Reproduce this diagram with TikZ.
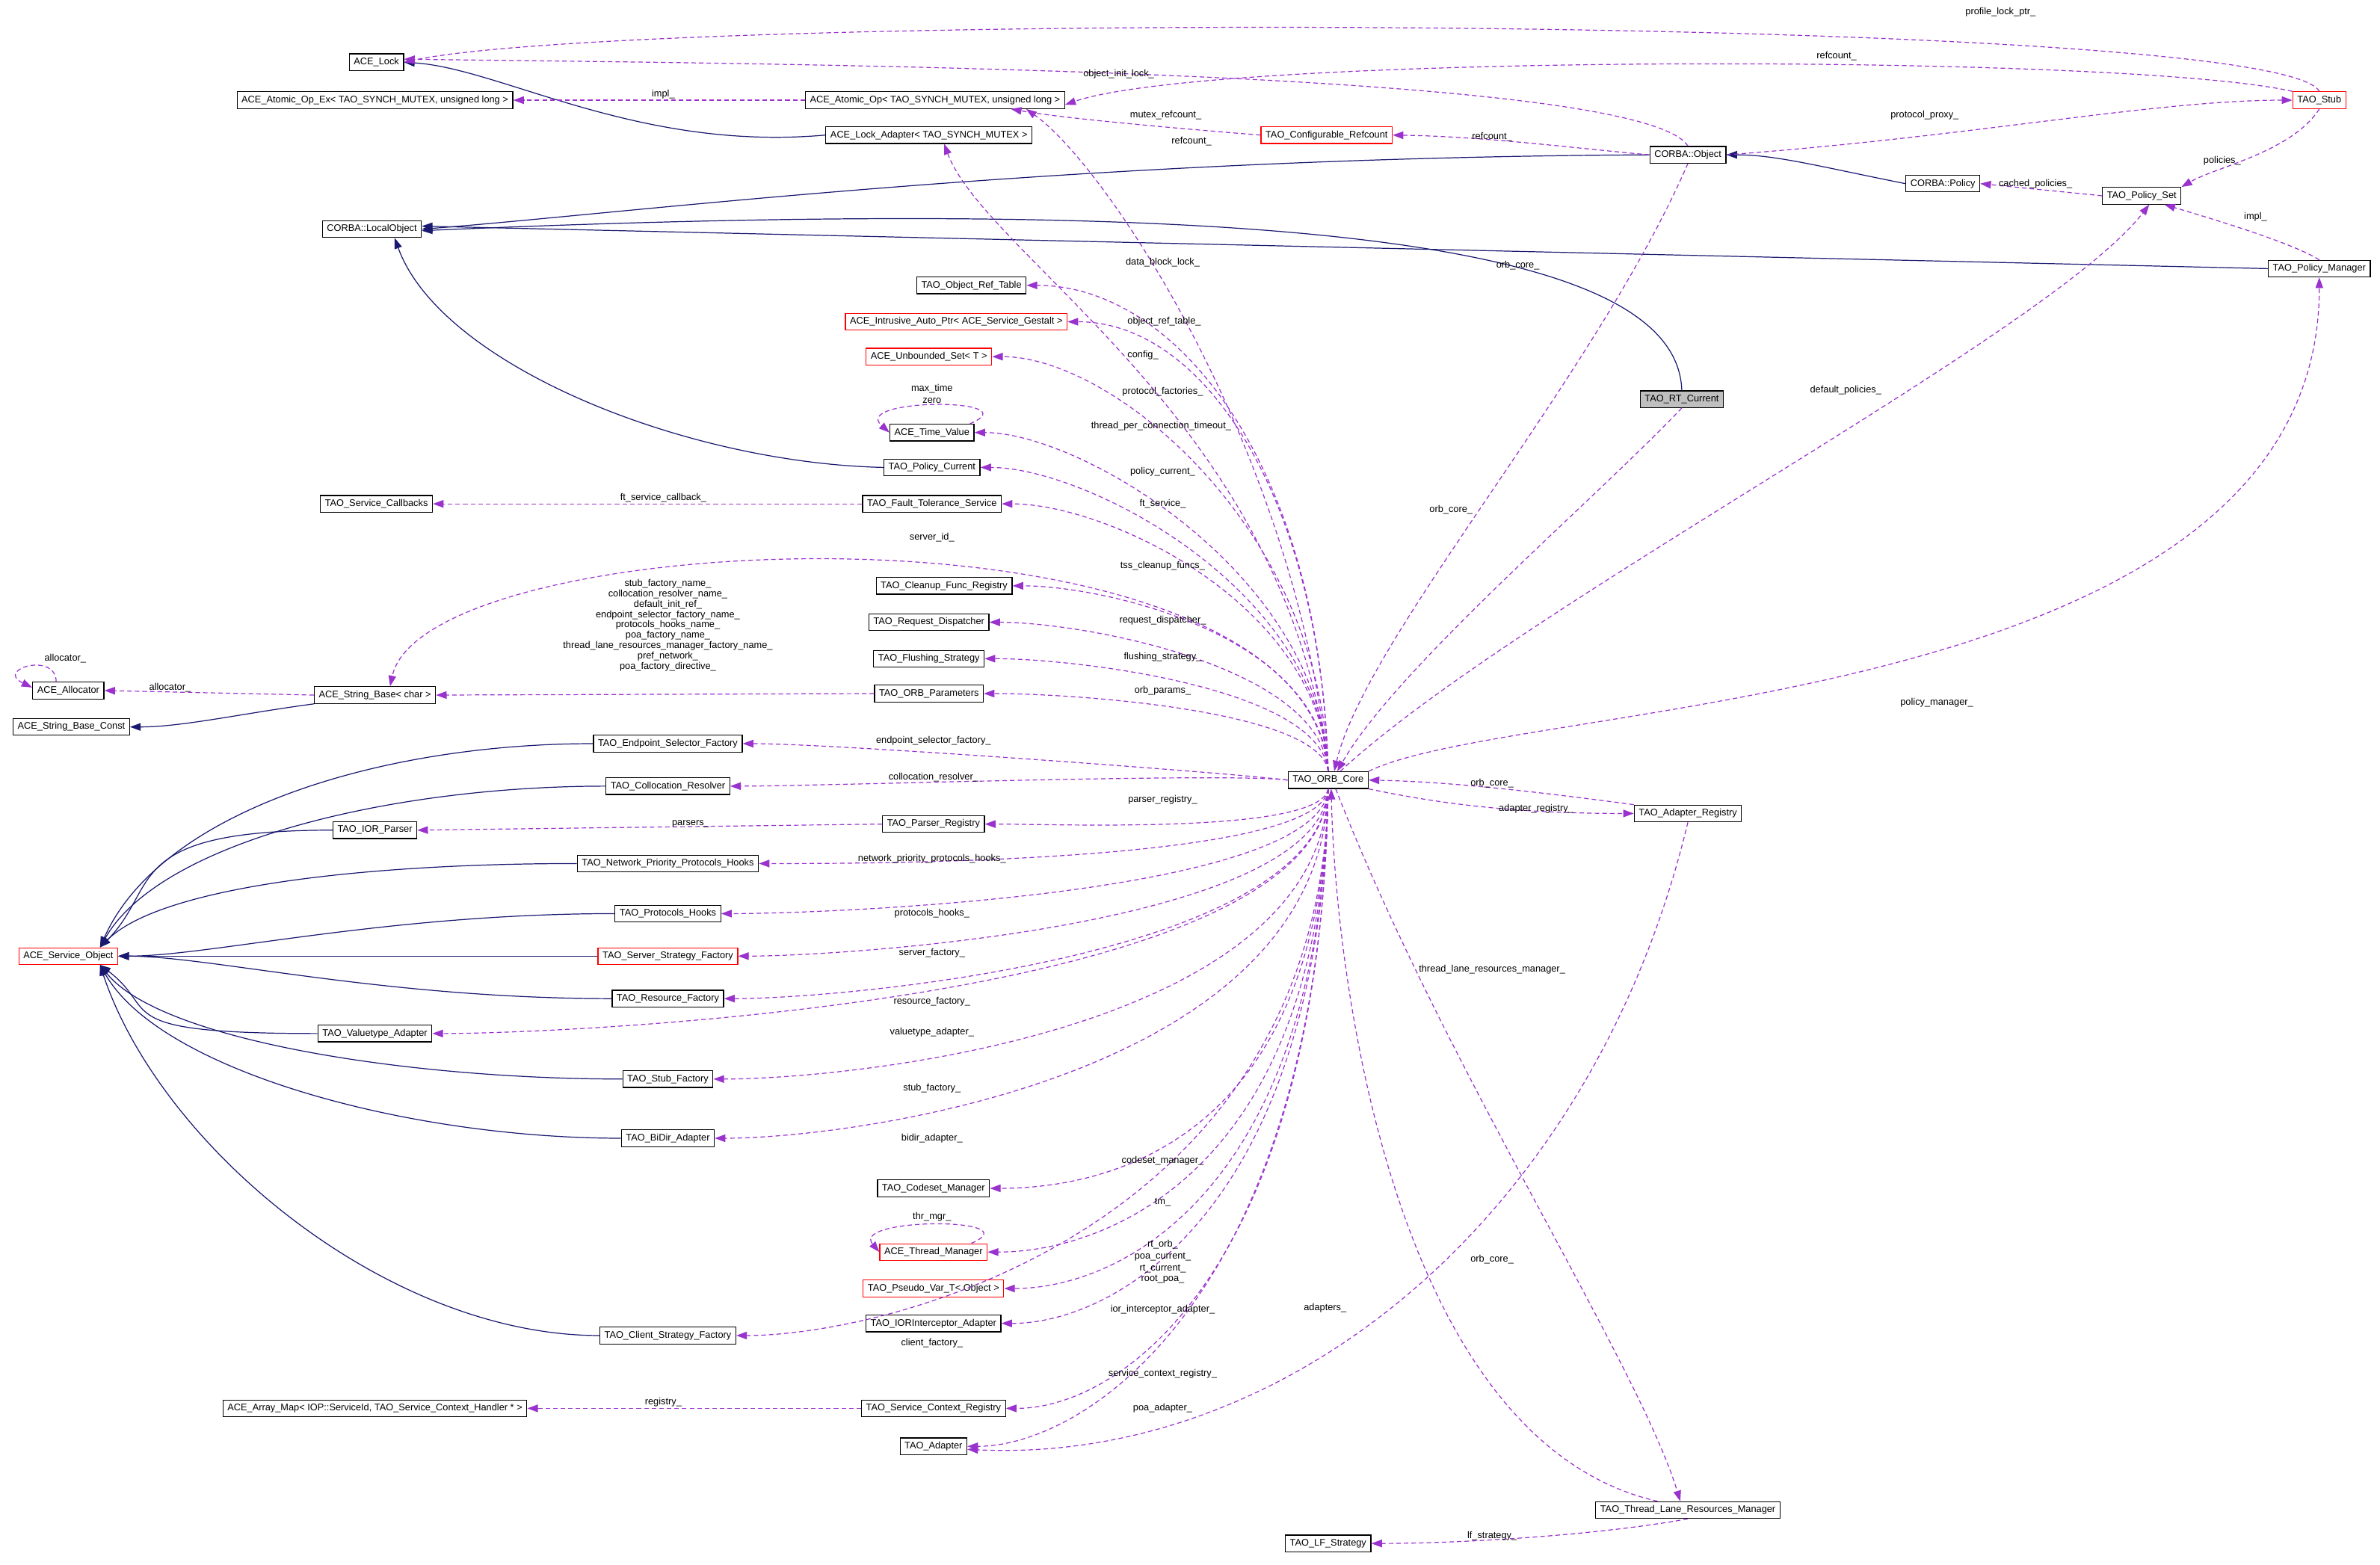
\documentclass[tikz,border=0pt]{standalone}
\usepackage{fontspec}
\setmainfont{Liberation Sans}
\usetikzlibrary{arrows.meta}
\definecolor{inhcol}{HTML}{191970}
\definecolor{usecol}{HTML}{9A32CD}
\tikzset{
  cls/.style={draw=black, line width=0.6pt, fill=white, inner xsep=3pt, inner ysep=1pt, minimum height=11pt, font=\fontsize{6.3}{7}\selectfont},
  tcls/.style={cls, draw=red},
  inh/.style={draw=inhcol, line width=0.6pt, -{Triangle[length=7pt,width=5pt]}},
  usel/.style={draw=usecol, line width=0.6pt, dash pattern=on 3pt off 2pt, -{Triangle[length=7pt,width=5pt]}, fill=none},
  lbl/.style={font=\fontsize{6.3}{6.8}\selectfont, inner sep=0pt, align=center}
}
\begin{document}
\catcode`\_=12
\begin{tikzpicture}[x=1pt,y=-1pt]
\useasboundingbox (0,0) rectangle (1568,1031);
% classes
\node[cls] (lock) at (248,41) {ACE_Lock};
\node[cls] (atomex) at (247,66) {ACE_Atomic_Op_Ex< TAO_SYNCH_MUTEX, unsigned long >};
\node[cls] (atom) at (616,66) {ACE_Atomic_Op< TAO_SYNCH_MUTEX, unsigned long >};
\node[cls] (lockad) at (612,89) {ACE_Lock_Adapter< TAO_SYNCH_MUTEX >};
\node[tcls] (cref) at (874,89) {TAO_Configurable_Refcount};
\node[tcls] (stub) at (1528,66) {TAO_Stub};
\node[cls] (obj) at (1112,102) {CORBA::Object};
\node[cls] (pol) at (1280,121) {CORBA::Policy};
\node[cls] (polset) at (1411,129) {TAO_Policy_Set};
\node[cls] (polmgr) at (1528,177) {TAO_Policy_Manager};
\node[cls] (lobj) at (245,151) {CORBA::LocalObject};
\node[cls] (oref) at (640,188) {TAO_Object_Ref_Table};
\node[tcls] (iap) at (630,212) {ACE_Intrusive_Auto_Ptr< ACE_Service_Gestalt >};
\node[tcls] (uset) at (612,235) {ACE_Unbounded_Set< T >};
\node[cls] (tval) at (614,285) {ACE_Time_Value};
\node[cls] (pcur) at (614,308) {TAO_Policy_Current};
\node[cls] (scb) at (248,332) {TAO_Service_Callbacks};
\node[cls] (fts) at (614,332) {TAO_Fault_Tolerance_Service};
\node[cls] (cfr) at (622,386) {TAO_Cleanup_Func_Registry};
\node[cls] (rdisp) at (612,410) {TAO_Request_Dispatcher};
\node[cls] (flush) at (612,434) {TAO_Flushing_Strategy};
\node[cls] (oparam) at (612,457) {TAO_ORB_Parameters};
\node[cls] (alloc) at (45,455) {ACE_Allocator};
\node[cls] (sbase) at (247,458) {ACE_String_Base< char >};
\node[cls] (sbc) at (47,479) {ACE_String_Base_Const};
\node[cls] (esf) at (440,490) {TAO_Endpoint_Selector_Factory};
\node[cls] (colres) at (440,518) {TAO_Collocation_Resolver};
\node[cls] (iorp) at (247,547) {TAO_IOR_Parser};
\node[cls] (preg) at (615,543) {TAO_Parser_Registry};
\node[cls] (nph) at (440,569) {TAO_Network_Priority_Protocols_Hooks};
\node[cls] (phooks) at (440,602) {TAO_Protocols_Hooks};
\node[tcls] (svcobj) at (45,630) {ACE_Service_Object};
\node[tcls] (ssf) at (440,630) {TAO_Server_Strategy_Factory};
\node[cls] (rfac) at (440,658) {TAO_Resource_Factory};
\node[cls] (vta) at (247,681) {TAO_Valuetype_Adapter};
\node[cls] (stfac) at (440,711) {TAO_Stub_Factory};
\node[cls] (bidir) at (440,750) {TAO_BiDir_Adapter};
\node[cls] (csm) at (615,783) {TAO_Codeset_Manager};
\node[tcls] (thrm) at (615,825) {ACE_Thread_Manager};
\node[tcls] (pvar) at (615,849) {TAO_Pseudo_Var_T< Object >};
\node[cls] (ioria) at (615,872) {TAO_IORInterceptor_Adapter};
\node[cls] (csf) at (440,880) {TAO_Client_Strategy_Factory};
\node[cls] (amap) at (247,928) {ACE_Array_Map< IOP::ServiceId, TAO_Service_Context_Handler * >};
\node[cls] (scr) at (615,928) {TAO_Service_Context_Registry};
\node[cls] (adapter) at (615,953) {TAO_Adapter};
\node[cls] (core) at (875,514) {TAO_ORB_Core};
\node[cls] (areg) at (1112,536) {TAO_Adapter_Registry};
\node[cls, fill=black!25] (rtc) at (1108,263) {TAO_RT_Current};
\node[cls] (tlrm) at (1112,995) {TAO_Thread_Lane_Resources_Manager};
\node[cls] (lfs) at (875,1017) {TAO_LF_Strategy};
% inheritance
\draw[inh] (lockad.west) .. controls (420,100) and (330,45) .. (lock.east);
\draw[inh] (obj.west) .. controls (700,104) and (420,140) .. (lobj.east);
\draw[inh] (rtc.north) .. controls (1105,170) and (900,125) .. ([yshift=-1pt]lobj.east);
\draw[inh] (polmgr.west) -- ([yshift=2pt]lobj.east);
\draw[inh] (pcur.west) .. controls (450,305) and (290,240) .. ([xshift=15pt]lobj.south);
\draw[inh] (pol.west) .. controls (1200,110) and (1170,102) .. (obj.east);
\draw[inh] (sbase.south west) .. controls (160,470) and (120,479) .. (sbc.east);
\foreach \s/\d in {esf/90,colres/70,iorp/40,nph/40}
  \draw[inh] (\s.west) .. controls +(-140,0) and +(40,-\d) .. ([xshift=-12pt]svcobj.north east);
\foreach \s in {phooks,ssf,rfac}
  \draw[inh] (\s.west) .. controls +(-150,0) and +(60,0) .. (svcobj.east);
\foreach \s/\d in {vta/30,stfac/50,bidir/70,csf/120}
  \draw[inh] (\s.west) .. controls +(-140,0) and +(40,\d) .. ([xshift=-12pt]svcobj.south east);
% usage
\draw[usel] (atom.west) -- (atomex.east);
\draw[usel] (stub.north) .. controls (1500,8) and (420,8) .. (lock.east);
\draw[usel] (stub.north west) .. controls (1400,35) and (800,35) .. ([yshift=-3pt]atom.east);
\draw[usel] (obj.north) .. controls (1080,45) and (500,42) .. ([yshift=2pt]lock.east);
\draw[usel] (cref.west) .. controls (780,85) and (700,78) .. ([xshift=50pt]atom.south);
\draw[usel] (obj.west) .. controls (1040,98) and (980,90) .. (cref.east);
\draw[usel] (obj.east) .. controls (1300,90) and (1420,66) .. (stub.west);
\draw[usel] (stub.south) .. controls (1510,100) and (1460,110) .. (polset.north east);
\draw[usel] (polset.west) -- (pol.east);
\draw[usel] (polmgr.north) .. controls (1510,160) and (1460,145) .. ([xshift=15pt]polset.south);
\draw[usel] (core.north) .. controls (855,300) and (730,110) .. ([xshift=60pt]atom.south);
\draw[usel] (core.north) .. controls (850,280) and (650,170) .. ([xshift=10pt]lockad.south);
\draw[usel] (core.north) .. controls (860,320) and (280,345) .. ([xshift=10pt]sbase.north);
\foreach \t/\d/\e in {oref/200/100,iap/180/90,uset/160/80,tval/130/70,pcur/120/70,fts/110/70,cfr/90/60,rdisp/70/60,flush/55/60,oparam/40/60}
  \draw[usel] (core.north) .. controls +(-5,-\d) and +(\e,0) .. (\t.east);
\foreach \t in {esf,colres}
  \draw[usel] (core.west) .. controls +(-40,-5) and +(60,0) .. (\t.east);
\foreach \t/\d/\e in {preg/30/50,nph/50/60,phooks/70/70,ssf/90/70,rfac/110/80,vta/140/90,stfac/160/90,bidir/190/90,csm/230/80,thrm/250/80,pvar/260/80,ioria/270/80,csf/290/100,scr/310/80,adapter/330/80}
  \draw[usel] (core.south) .. controls +(-5,\d) and +(\e,0) .. (\t.east);
\draw[usel] (preg.west) -- (iorp.east);
\draw[usel] (oparam.west) -- (sbase.east);
\draw[usel] (sbase.west) -- (alloc.east);
\draw[usel] ([xshift=-8pt]alloc.north) .. controls +(0,-20) and +(-25,-12) .. ([yshift=2pt]alloc.west);
\draw[usel] ([xshift=25pt]tval.north) .. controls (680,262) and (560,262) .. (tval.west);
\draw[usel] ([xshift=25pt]thrm.north) .. controls (680,802) and (560,802) .. (thrm.west);
\draw[usel] (fts.west) -- (scb.east);
\draw[usel] (scr.west) -- (amap.east);
\draw[usel] (obj.south) .. controls (1050,250) and (900,420) .. ([xshift=4pt]core.north);
\draw[usel] (rtc.south) .. controls (1050,330) and (920,440) .. ([xshift=6pt]core.north);
\draw[usel] ([xshift=8pt]core.north) .. controls (1000,400) and (1350,220) .. ([xshift=5pt]polset.south);
\draw[usel] (core.north east) .. controls (1000,460) and (1528,470) .. (polmgr.south);
\draw[usel] (areg.north west) .. controls (1000,520) and (950,515) .. (core.east);
\draw[usel] (core.south east) .. controls (950,530) and (1000,536) .. (areg.west);
\draw[usel] ([xshift=5pt]core.south) .. controls (950,700) and (1080,900) .. ([xshift=-5pt]tlrm.north);
\draw[usel] ([xshift=-20pt]tlrm.north) .. controls (920,950) and (880,650) .. ([xshift=2pt]core.south);
\draw[usel] (areg.south) .. controls (1050,800) and (850,965) .. ([yshift=-2pt]adapter.east);
\draw[usel] (tlrm.south) .. controls (1050,1012) and (960,1017) .. (lfs.east);
% labels
\foreach \x/\y/\t in {1318/8/profile_lock_ptr_, 1210/37/refcount_, 737/49/object_init_lock_,
  437/62/impl_, 768/76/mutex_refcount_, 1268/76/protocol_proxy_, 785/93/refcount_,
  983/90/refcount_, 1464/106/policies_, 1341/121/cached_policies_, 1486/143/impl_,
  766/173/data_block_lock_, 1000/175/orb_core_, 767/212/object_ref_table_, 753/234/config_,
  766/258/protocol_factories_, 1216/257/default_policies_, 614/256/max_time, 614/264/zero,
  765/281/thread_per_connection_timeout_, 956/336/orb_core_, 766/311/policy_current_,
  437/328/ft_service_callback_, 766/332/ft_service_, 614/354/server_id_,
  766/373/tss_cleanup_funcs_, 43/434/allocator_, 112/453/allocator_,
  766/409/request_dispatcher_, 766/433/flushing_strategy_, 766/455/orb_params_,
  1276/463/policy_manager_, 615/488/endpoint_selector_factory_, 983/516/orb_core_,
  1012/533/adapter_registry_, 615/512/collocation_resolver_, 766/527/parser_registry_,
  455/543/parsers_, 614/566/network_priority_protocols_hooks_, 614/602/protocols_hooks_,
  614/628/server_factory_, 614/660/resource_factory_, 614/680/valuetype_adapter_,
  983/639/thread_lane_resources_manager_, 614/717/stub_factory_, 614/750/bidir_adapter_,
  766/765/codeset_manager_, 766/792/tm_, 614/802/thr_mgr_, 766/820/rt_orb_,
  766/828/poa_current_, 766/836/rt_current_, 766/843/root_poa_, 983/830/orb_core_,
  873/862/adapters_, 766/863/ior_interceptor_adapter_, 614/885/client_factory_,
  766/905/service_context_registry_, 437/924/registry_, 766/928/poa_adapter_,
  983/1012/lf_strategy_}
  \node[lbl] at (\x,\y) {\t};
\node[lbl] (pnames) at (440,412) {stub_factory_name_\\collocation_resolver_name_\\default_init_ref_\\endpoint_selector_factory_name_\\protocols_hooks_name_\\poa_factory_name_\\thread_lane_resources_manager_factory_name_\\pref_network_\\poa_factory_directive_};
\end{tikzpicture}
\end{document}
